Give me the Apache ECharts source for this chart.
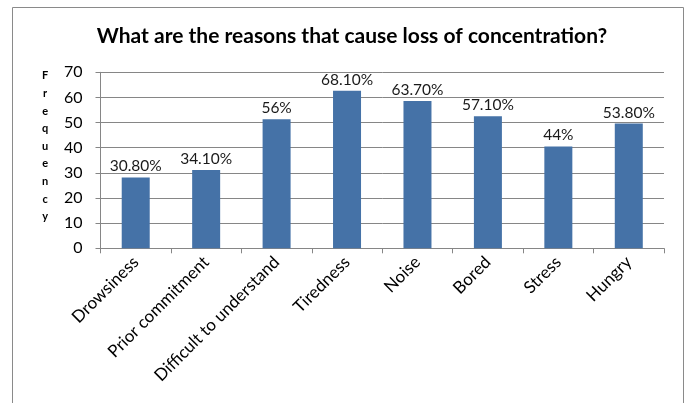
<!DOCTYPE html>
<html>
<head>
<meta charset="utf-8">
<script src="https://cdn.jsdelivr.net/npm/echarts@6/dist/echarts.min.js"></script>
<style>
html,body{margin:0;padding:0;background:#fff;}
#chart{width:691px;height:403px;}
</style>
</head>
<body>
<div id="chart"></div>
<script>
const titleText = 'What are the reasons that cause loss of concentration?';
const yAxisTitle = 'Frequency';
const categories = ['Drowsiness', 'Prior commitment', 'Difficult to understand', 'Tiredness', 'Noise', 'Bored', 'Stress', 'Hungry'];
const values = [28.2, 31.1, 51.3, 62.7, 58.6, 52.5, 40.5, 49.6];
const valueLabels = ['30.80%', '34.10%', '56%', '68.10%', '63.70%', '57.10%', '44%', '53.80%'];
const yMin = 0, yMax = 70, yStep = 10;

const FONT = 'Lato, "Open Sans", sans-serif';
const chart = echarts.init(document.getElementById('chart'), null, {renderer: 'canvas'});
chart.setOption({
  backgroundColor: '#ffffff',
  animation: false,
  title: {
    text: titleText,
    left: 347, top: 21, textAlign: 'center',
    textStyle: {fontFamily: FONT, fontWeight: 'bold', fontSize: 21, color: '#000'}
  },
  graphic: [
    {type: 'rect', shape: {x: 12.5, y: 7.5, width: 671, height: 420},
     style: {fill: 'none', stroke: '#8a8a8a', lineWidth: 1}, silent: true},
    {type: 'text', left: 42, top: 67,
     style: {text: yAxisTitle.split('').join('\n'), font: 'bold 11px ' + FONT, lineHeight: 17.6, fill: '#000', textAlign: 'center'}}
  ],
  grid: {left: 100.5, right: 27, top: 72.3, bottom: 154.7, containLabel: false},
  xAxis: {
    type: 'category',
    data: categories,
    axisLine: {show: true, lineStyle: {color: '#868686', width: 1}},
    axisTick: {show: true, length: 5, lineStyle: {color: '#868686'}},
    axisLabel: {rotate: 45, margin: 11, fontFamily: FONT, fontSize: 17, color: '#000', interval: 0}
  },
  yAxis: {
    type: 'value', min: yMin, max: yMax, interval: yStep,
    axisLine: {show: true, lineStyle: {color: '#868686', width: 1}},
    axisTick: {show: true, length: 5, lineStyle: {color: '#868686'}},
    splitLine: {show: true, lineStyle: {color: '#868686', width: 1}},
    axisLabel: {margin: 18, fontFamily: FONT, fontSize: 16, color: '#000'}
  },
  series: [{
    type: 'bar',
    data: values,
    barWidth: 28,
    itemStyle: {color: '#4572A7'},
    label: {
      show: true, position: 'top', distance: 3,
      fontFamily: FONT, fontSize: 15.5, color: '#1a1a1a',
      formatter: p => valueLabels[p.dataIndex]
    }
  }]
});
</script>
</body>
</html>
